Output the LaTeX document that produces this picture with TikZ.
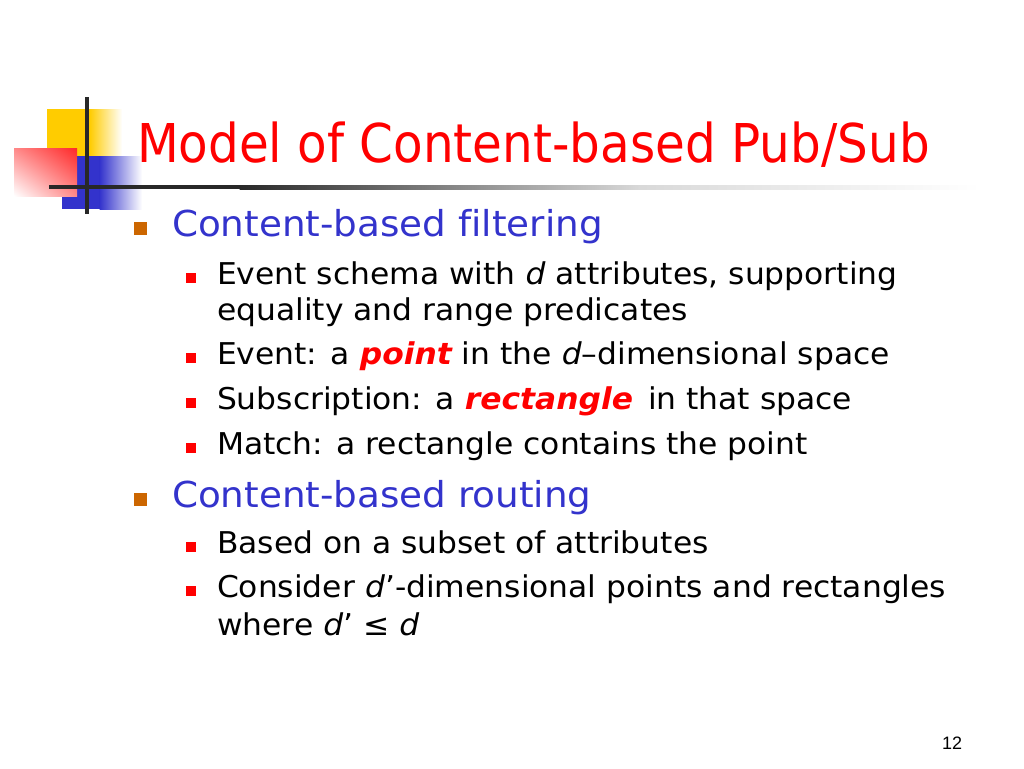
\documentclass[tikz,border=0pt]{standalone}
\usepackage{fontspec}
\setmainfont{DejaVu Sans}
\newfontfamily\bodyfont[FakeStretch=1.045, Ligatures=NoCommon]{DejaVu Sans}
\newfontfamily\titlefont[FakeStretch=0.905, Ligatures=NoCommon]{DejaVu Sans}
\newfontfamily\numfont{Liberation Sans}
\usetikzlibrary{shadings}
\definecolor{titlered}{RGB}{255,0,0}
\definecolor{lvlblue}{RGB}{51,51,204}
\definecolor{bulletorange}{RGB}{204,102,0}
\definecolor{bulletred}{RGB}{255,0,0}
\definecolor{logoyellow}{RGB}{255,204,0}
\definecolor{logoblue}{RGB}{51,51,204}
\definecolor{logored}{RGB}{255,40,40}
\definecolor{linedark}{RGB}{40,40,40}
\tikzset{
  txt/.style={anchor=base west, inner sep=0pt, outer sep=0pt},
  titletxt/.style={txt, text=titlered, font=\titlefont\fontsize{53.5}{60}\selectfont},
  lvlone/.style={txt, text=lvlblue, font=\bodyfont\fontsize{35.7}{42}\selectfont},
  lvltwo/.style={txt, text=black, font=\bodyfont\fontsize{30}{36}\selectfont},
  bulletone/.style={fill=bulletorange, draw=none, minimum size=13pt, inner sep=0pt},
  bullettwo/.style={fill=bulletred, draw=none, minimum size=9.5pt, inner sep=0pt},
}
\newcommand{\hl}[1]{\textcolor{titlered}{\bfseries\itshape #1}}
\begin{document}
\begin{tikzpicture}[x=1pt,y=-1pt]
\useasboundingbox (0,0) rectangle (1024,768);
\fill[white] (0,0) rectangle (1024,768);
% logo
\fill[logoyellow] (47,109) rectangle (90,157);
\shade[left color=logoyellow, right color=white] (89.5,109) rectangle (122,157);
\fill[logoblue] (62,156) rectangle (100,209);
\shade[left color=logoblue, right color=white] (99.5,156) rectangle (142,209);
\shade[upper right=logored, lower right=logored!55, upper left=logored!55, lower left=white] (14,148) rectangle (77,196);
\fill[linedark] (49,185) rectangle (240,189);
\shade[left color=linedark, right color=black!15] (239.5,185) rectangle (640,189);
\shade[left color=black!15, right color=white] (639.5,185) rectangle (980,189);
\fill[linedark] (85,97) rectangle (89,214);
% title
\node[titletxt] (title) at (137,162) {Model of Content-based Pub/Sub};
% level 1
\node[bulletone] (b1) at (140.5,228.5) {};
\node[lvlone] (l1) at (172,236) {Content-based filtering};
\node[bullettwo] (b11) at (191,278) {};
\node[lvltwo] (t11) at (217,284) {Event schema with \textit{d} attributes, supporting};
\node[lvltwo] (t11b) at (217,320) {equality and range predicates};
\node[bullettwo] (b12) at (191,358) {};
\node[lvltwo] (t12) at (217,364) {Event: a \hl{point} in the \textit{d}–dimensional space};
\node[bullettwo] (b13) at (191,403) {};
\node[lvltwo] (t13) at (217,409) {Subscription: a \hl{rectangle}\, in that space};
\node[bullettwo] (b14) at (191,448) {};
\node[lvltwo] (t14) at (217,454) {Match: a rectangle contains the point};
% level 1 second
\node[bulletone] (b2) at (140.5,499.5) {};
\node[lvlone] (l2) at (172,507) {Content-based routing};
\node[bullettwo] (b21) at (191,547) {};
\node[lvltwo] (t21) at (217,553) {Based on a subset of attributes};
\node[bullettwo] (b22) at (191,591) {};
\node[lvltwo] (t22) at (217,597) {Consider \textit{d}’-dimensional points and rectangles};
\node[lvltwo] (t22b) at (217,635) {where \textit{d}’ ≤ \textit{d}};
% page number
\node[txt, font=\numfont\fontsize{18}{20}\selectfont] (pg) at (942,749) {12};
\end{tikzpicture}
\end{document}
